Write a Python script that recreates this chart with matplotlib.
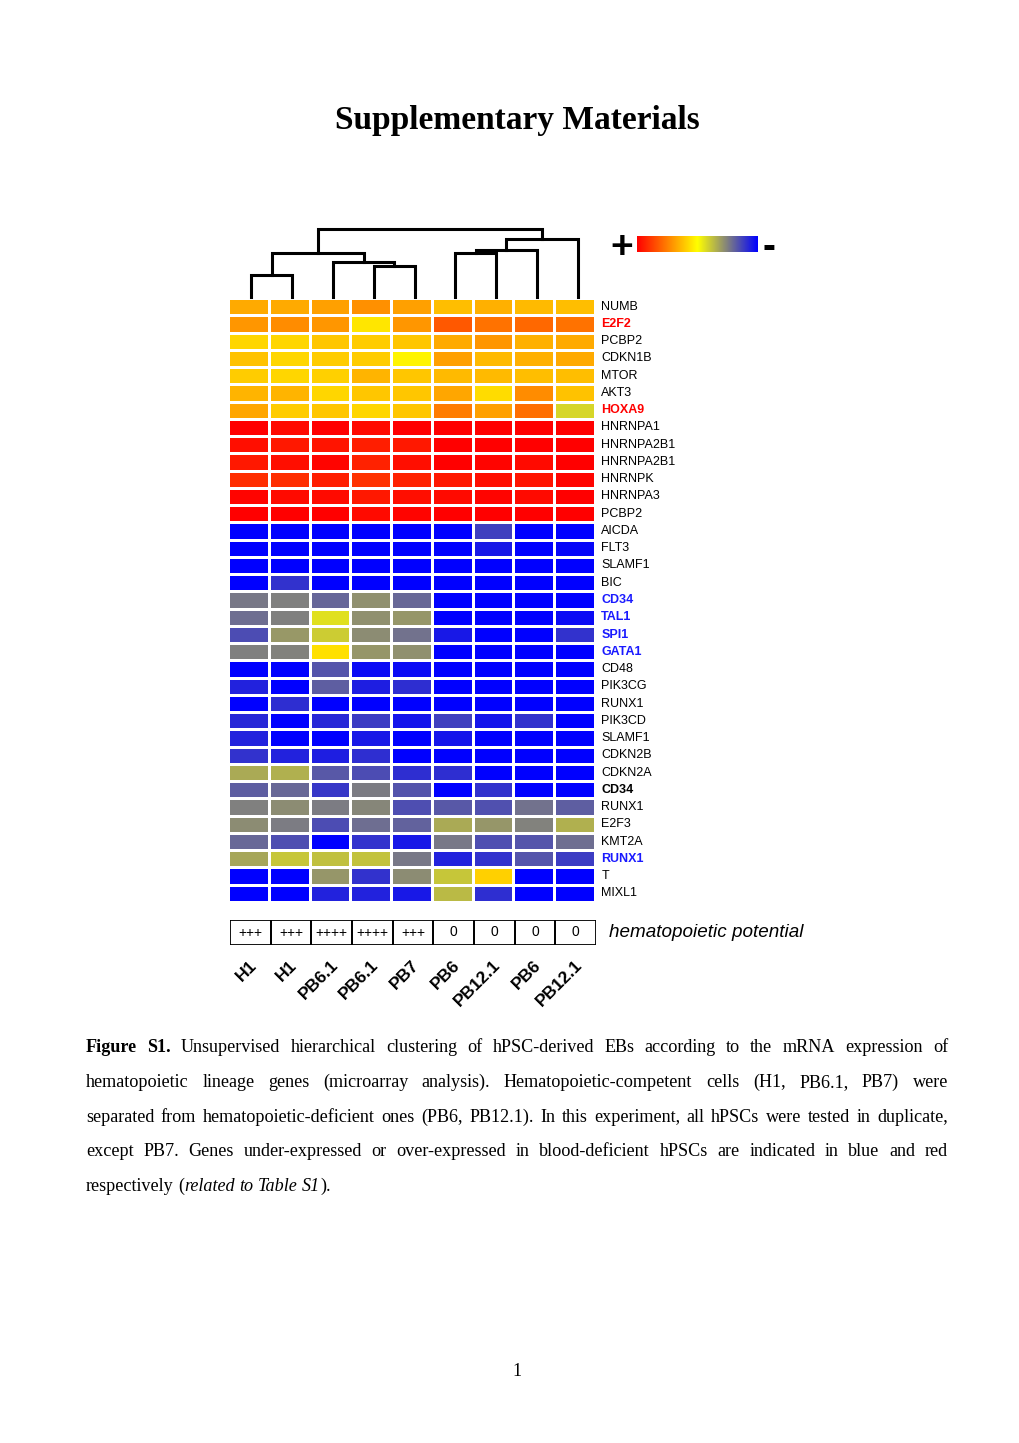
import numpy as np
import matplotlib
matplotlib.use("Agg")
import matplotlib.pyplot as plt
from matplotlib.colors import LinearSegmentedColormap
from matplotlib.patches import Rectangle

W, H = 1020, 1443
SANS = "Liberation Sans"
SERIF = "Liberation Serif"

samples = ["H1", "H1", "PB6.1", "PB6.1", "PB7", "PB6", "PB12.1", "PB6", "PB12.1"]
potential = ["+++", "+++", "++++", "++++", "+++", "0", "0", "0", "0"]

genes = ["NUMB", "E2F2", "PCBP2", "CDKN1B", "MTOR", "AKT3", "HOXA9",
         "HNRNPA1", "HNRNPA2B1", "HNRNPA2B1", "HNRNPK", "HNRNPA3", "PCBP2",
         "AICDA", "FLT3", "SLAMF1", "BIC", "CD34", "TAL1", "SPI1", "GATA1",
         "CD48", "PIK3CG", "RUNX1", "PIK3CD", "SLAMF1", "CDKN2B", "CDKN2A",
         "CD34", "RUNX1", "E2F3", "KMT2A", "RUNX1", "T", "MIXL1"]
gene_colors = ["k", "red", "k", "k", "k", "k", "red",
               "k", "k", "k", "k", "k", "k",
               "k", "k", "k", "k", "#1a1aff", "#1a1aff", "#1a1aff", "#1a1aff",
               "k", "k", "k", "k", "k", "k", "k",
               "k", "k", "k", "k", "#1a1aff", "k", "k"]
gene_bold = [0, 1, 0, 0, 0, 0, 1,
             0, 0, 0, 0, 0, 0,
             0, 0, 0, 0, 1, 1, 1, 1,
             0, 0, 0, 0, 0, 0, 0,
             1, 0, 0, 0, 1, 0, 0]

# relative expression: +1 red (high), 0 yellow, -1 blue (low)
expr = [
    [0.33, 0.33, 0.37, 0.43, 0.37, 0.25, 0.31, 0.27, 0.25],
    [0.41, 0.45, 0.41, 0.10, 0.41, 0.65, 0.55, 0.59, 0.55],
    [0.16, 0.16, 0.22, 0.20, 0.22, 0.33, 0.41, 0.31, 0.33],
    [0.24, 0.16, 0.20, 0.20, 0.04, 0.37, 0.27, 0.31, 0.33],
    [0.20, 0.16, 0.18, 0.29, 0.22, 0.27, 0.27, 0.25, 0.25],
    [0.29, 0.29, 0.16, 0.22, 0.22, 0.35, 0.14, 0.45, 0.24],
    [0.35, 0.20, 0.22, 0.16, 0.22, 0.51, 0.37, 0.57, -0.16],
    [1.00, 0.96, 1.00, 0.96, 1.00, 1.00, 1.00, 1.00, 1.00],
    [0.94, 0.90, 0.92, 0.88, 0.90, 1.00, 1.00, 1.00, 1.00],
    [0.90, 0.94, 0.98, 0.86, 0.94, 1.00, 0.98, 0.96, 1.00],
    [0.82, 0.82, 0.88, 0.80, 0.86, 0.90, 0.94, 0.92, 0.98],
    [0.98, 0.96, 0.96, 0.90, 0.94, 0.96, 0.98, 0.96, 1.00],
    [1.00, 1.00, 1.00, 0.96, 0.98, 1.00, 1.00, 1.00, 1.00],
    [-1.00, -1.00, -1.00, -1.00, -1.00, -1.00, -0.75, -1.00, -1.00],
    [-1.00, -1.00, -1.00, -1.00, -1.00, -1.00, -0.90, -1.00, -0.97],
    [-1.00, -1.00, -1.00, -1.00, -1.00, -1.00, -1.00, -1.00, -1.00],
    [-1.00, -0.80, -1.00, -1.00, -1.00, -1.00, -1.00, -1.00, -1.00],
    [-0.53, -0.50, -0.60, -0.43, -0.59, -1.00, -1.00, -1.00, -1.00],
    [-0.57, -0.50, -0.12, -0.43, -0.41, -1.00, -1.00, -1.00, -0.96],
    [-0.70, -0.40, -0.20, -0.45, -0.55, -0.90, -1.00, -1.00, -0.80],
    [-0.50, -0.49, 0.12, -0.41, -0.43, -1.00, -1.00, -1.00, -1.00],
    [-1.00, -1.00, -0.67, -0.96, -0.96, -1.00, -1.00, -1.00, -1.00],
    [-0.86, -1.00, -0.63, -0.88, -0.82, -1.00, -1.00, -1.00, -1.00],
    [-1.00, -0.82, -1.00, -1.00, -1.00, -1.00, -1.00, -1.00, -1.00],
    [-0.84, -1.00, -0.84, -0.76, -0.92, -0.75, -0.92, -0.80, -1.00],
    [-0.86, -1.00, -1.00, -0.90, -1.00, -0.92, -1.00, -1.00, -1.00],
    [-0.80, -0.86, -0.88, -0.82, -1.00, -1.00, -1.00, -1.00, -1.00],
    [-0.33, -0.31, -0.65, -0.70, -0.82, -0.82, -1.00, -1.00, -1.00],
    [-0.63, -0.59, -0.78, -0.51, -0.67, -1.00, -0.80, -1.00, -1.00],
    [-0.50, -0.45, -0.51, -0.47, -0.69, -0.65, -0.68, -0.55, -0.63],
    [-0.45, -0.51, -0.70, -0.57, -0.61, -0.33, -0.41, -0.49, -0.31],
    [-0.59, -0.69, -1.00, -0.80, -0.90, -0.53, -0.69, -0.67, -0.57],
    [-0.35, -0.22, -0.25, -0.24, -0.53, -0.86, -0.80, -0.67, -0.76],
    [-1.00, -1.00, -0.41, -0.80, -0.45, -0.22, 0.18, -1.00, -1.00],
    [-1.00, -1.00, -0.86, -0.86, -0.90, -0.27, -0.82, -1.00, -1.00],
]

# dendrogram merges (new cluster ids start at 9, in this order)
link_left = [0, 3, 2, 9, 5, 13, 14, 12]
link_right = [1, 4, 10, 11, 6, 7, 8, 15]
link_height = [0.32, 0.46, 0.52, 0.65, 0.64, 0.69, 0.85, 1.00]

caption = [
    [[("Figure", "b")], [("S1.", "b")], "Unsupervised", "hierarchical", "clustering", "of",
     "hPSC-derived", "EBs", "according", "to", "the", "mRNA", "expression", "of"],
    "hematopoietic lineage genes (microarray analysis). Hematopoietic-competent cells (H1, PB6.1, PB7) were".split(),
    "separated from hematopoietic-deficient ones (PB6, PB12.1). In this experiment, all hPSCs were tested in duplicate,".split(),
    "except PB7. Genes under-expressed or over-expressed in blood-deficient hPSCs are indicated in blue and red".split(),
    ["respectively", [("(", "r"), ("related", "i")], [("to", "i")], [("Table", "i")],
     [("S1", "i"), (").", "r")]],
]


def px_axes(fig, x0, y0, x1, y1):
    return fig.add_axes([x0 / W, 1 - y1 / H, (x1 - x0) / W, (y1 - y0) / H])


def draw_dendrogram(ax, n):
    xs = list(np.arange(n) + 0.5)
    ys = [0.0] * n
    for a, b, h in zip(link_left, link_right, link_height):
        ax.plot([xs[a], xs[a], xs[b], xs[b]], [ys[a], h, h, ys[b]],
                color="k", lw=2.2, solid_joinstyle="miter", clip_on=False)
        xs.append((xs[a] + xs[b]) / 2)
        ys.append(h)
    ax.set_xlim(0, n)
    ax.set_ylim(0, max(link_height))
    ax.axis("off")


def write_words(fig, words, x0, x1, y, size, justify):
    r = fig.canvas.get_renderer()
    style = {"r": {}, "b": {"fontweight": "bold"}, "i": {"fontstyle": "italic"}}
    placed = []
    for w in words:
        if isinstance(w, str):
            w = [(w, "r")]
        parts = []
        for txt, st in w:
            t = fig.text(0, y / H, txt, fontsize=size, family=SERIF,
                         va="baseline", **style[st])
            parts.append((t, t.get_window_extent(r).width))
        placed.append(parts)
    widths = [sum(p[1] for p in parts) for parts in placed]
    a = fig.text(0, 0, "a a", fontsize=size, family=SERIF)
    b = fig.text(0, 0, "aa", fontsize=size, family=SERIF)
    space = a.get_window_extent(r).width - b.get_window_extent(r).width
    a.remove()
    b.remove()
    if justify:
        gap = (x1 - x0 - sum(widths)) / (len(words) - 1)
    else:
        gap = space
    x = x0
    for parts, wd in zip(placed, widths):
        xx = x
        for t, pw in parts:
            t.set_x(xx / W)
            t.set_y(1 - y / H)
            xx += pw
        x += wd + gap


def main():
    fig = plt.figure(figsize=(W / 100, H / 100), dpi=100)
    cmap = LinearSegmentedColormap.from_list("ryb", ["#0000ff", "#ffff00", "#ff0000"])
    data = np.array(expr)
    nr, nc = data.shape

    fig.text(517 / W, 1 - 121 / H, "Supplementary Materials", ha="center", va="center",
             fontsize=24, fontweight="bold", family=SERIF)

    # heatmap
    ax = px_axes(fig, 228, 298, 595, 902)
    ax.pcolormesh(data, cmap=cmap, vmin=-1, vmax=1, edgecolors="white", linewidth=1.0)
    ax.set_xlim(0, nc)
    ax.set_ylim(nr, 0)
    ax.axis("off")
    for i, g in enumerate(genes):
        ax.annotate(g, xy=(1, i + 0.5), xycoords=("axes fraction", "data"),
                    xytext=(4.5, 0), textcoords="offset points", va="center",
                    fontsize=9, family=SANS, color=gene_colors[i],
                    fontweight="bold" if gene_bold[i] else "normal")

    # dendrogram
    axd = px_axes(fig, 231, 229, 598, 297)
    draw_dendrogram(axd, nc)

    # colour key
    axc = px_axes(fig, 637, 236, 757, 252)
    axc.imshow(np.linspace(1, -1, 256)[None, :], cmap=cmap, vmin=-1, vmax=1, aspect="auto")
    axc.axis("off")
    fig.text(622 / W, 1 - 244 / H, "+", ha="center", va="center_baseline",
             fontsize=28, fontweight="bold", family=SANS)
    fig.text(769 / W, 1 - 244 / H, "-", ha="center", va="center_baseline",
             fontsize=28, fontweight="bold", family=SANS)

    # hematopoietic potential
    axp = px_axes(fig, 230, 920, 596, 945)
    for i, p in enumerate(potential):
        axp.add_patch(Rectangle((i, 0), 1, 1, fill=False, edgecolor="k", lw=1.3))
        axp.text(i + 0.5, 0.5, p, ha="center", va="center", fontsize=10, family=SANS)
        axp.annotate(samples[i], xy=(i + 0.5, 0), xytext=(-1, -9), textcoords="offset points",
                     rotation=45, ha="right", va="top", rotation_mode="anchor",
                     fontsize=12.5, fontweight="bold", family=SANS)
    axp.set_xlim(0, nc)
    axp.set_ylim(0, 1)
    axp.axis("off")
    axp.annotate("hematopoietic potential", xy=(1, 0.5), xycoords="axes fraction",
                 xytext=(9.5, 0), textcoords="offset points", va="center",
                 fontsize=13.6, fontstyle="italic", family=SANS)

    # caption
    base = [1052, 1087, 1122, 1156, 1191]
    for k, (words, y) in enumerate(zip(caption, base)):
        write_words(fig, words, 86, 948, y, 13.1, justify=k < len(caption) - 1)

    fig.text(517 / W, 1 - 1372 / H, "1", ha="center", va="center", fontsize=13, family=SERIF)

    fig.savefig("out.png", dpi=100)


if __name__ == "__main__":
    main()
